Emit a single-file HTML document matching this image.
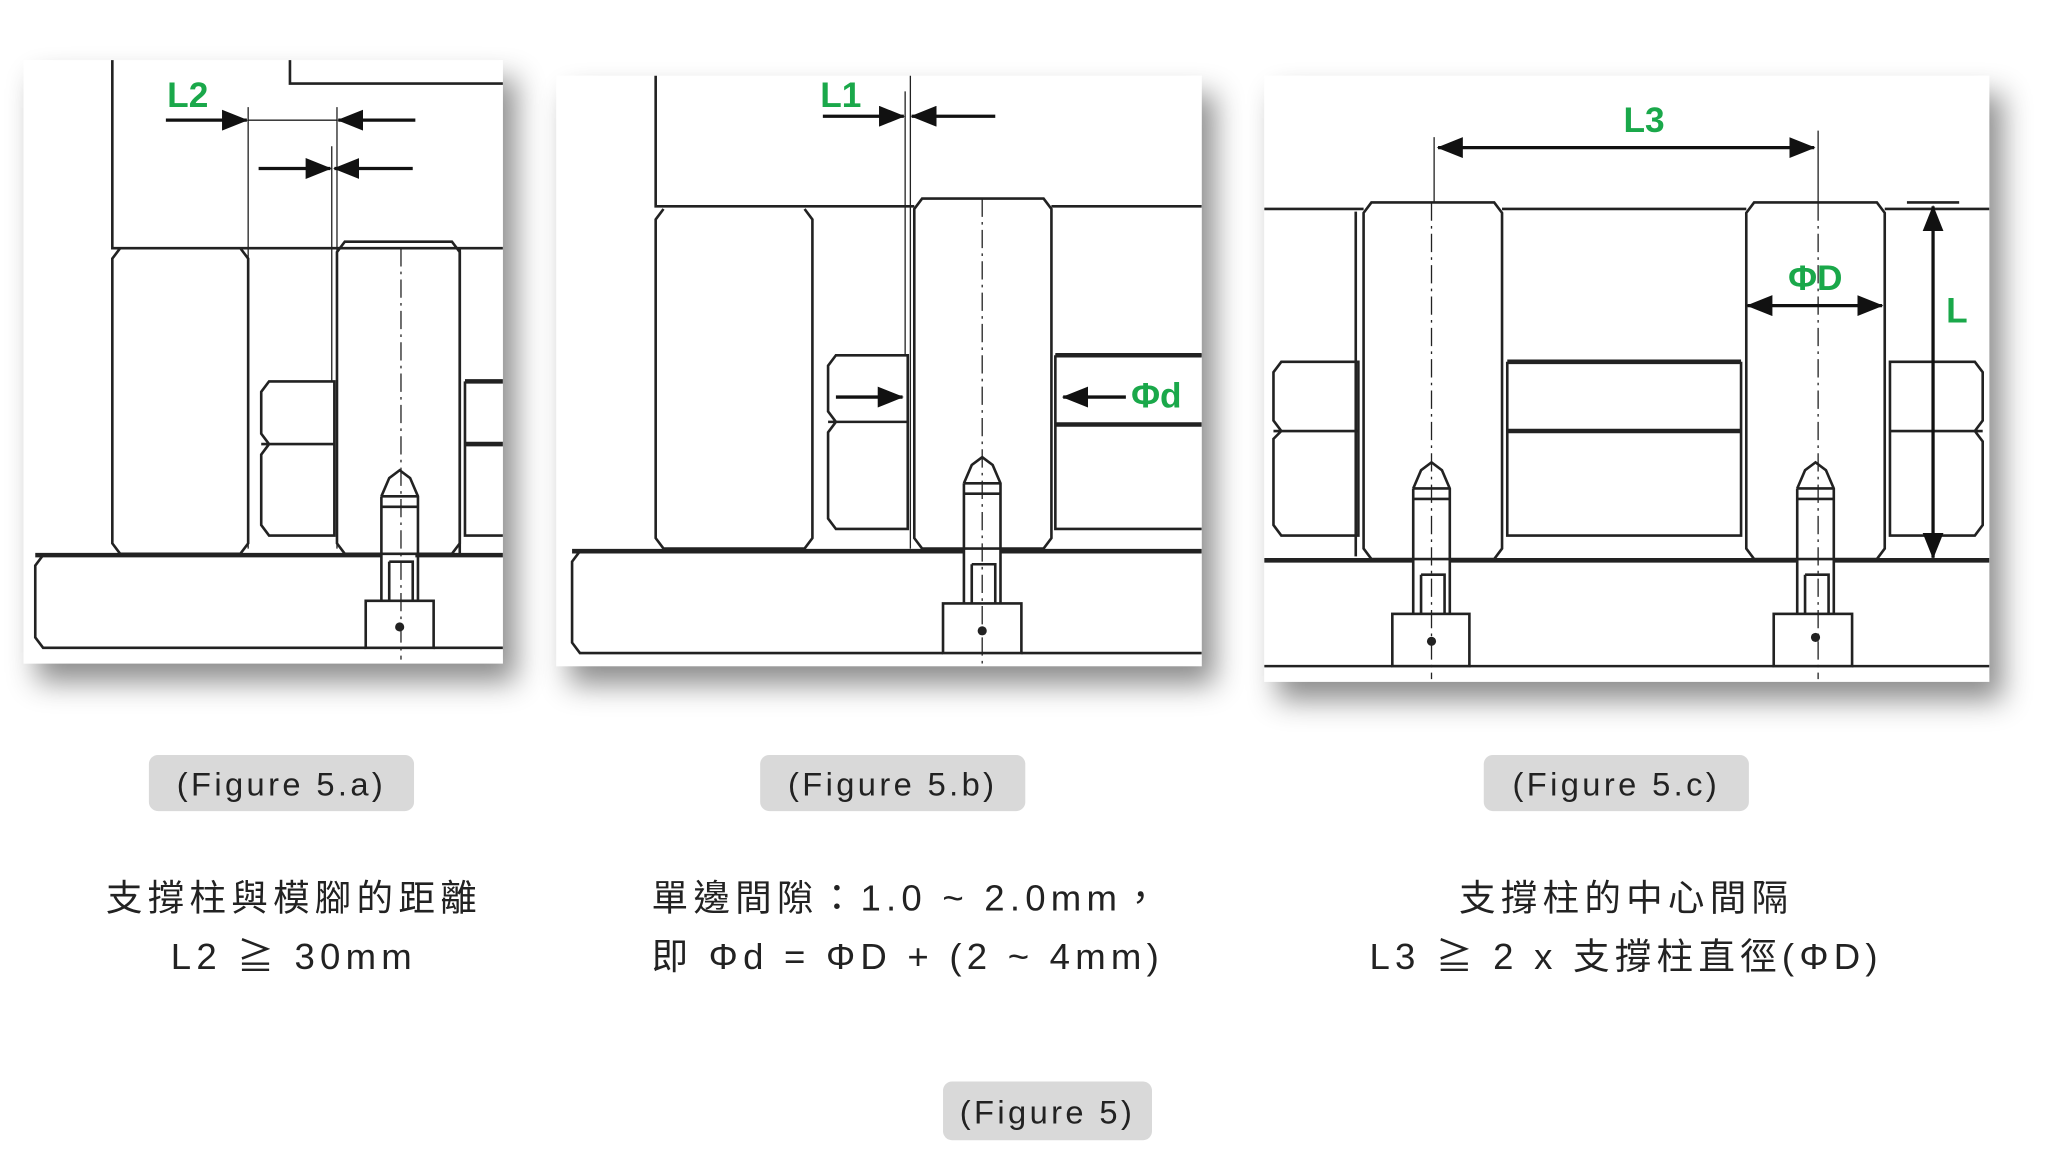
<!DOCTYPE html>
<html><head><meta charset="utf-8"><style>
html,body{margin:0;padding:0;background:#fff;width:2048px;height:1152px;overflow:hidden}
svg{display:block}
.l{fill:none;stroke:#222;stroke-width:2}
.t{stroke-width:3.5}
.th{stroke-width:1}
.d{stroke-dasharray:14 4 2 4;stroke-width:1}
.a{fill:none;stroke:#111;stroke-width:2.5}
.g{fill:#1aa84a;font-family:"Liberation Sans",sans-serif;font-weight:bold;font-size:27px}
.cap{font-family:"Liberation Sans",sans-serif;font-size:25px;fill:#222;letter-spacing:2.6px}
.tx{font-family:"Liberation Sans","Noto Sans CJK TC",sans-serif;font-size:28px;fill:#222;letter-spacing:4px}
</style></head><body>
<svg width="2048" height="1152" viewBox="0 0 1568 882" xmlns="http://www.w3.org/2000/svg">
<defs>
<filter id="sh" x="-10%" y="-10%" width="130%" height="130%"><feDropShadow dx="10" dy="14" stdDeviation="11" flood-color="#000" flood-opacity="0.45"/></filter>
<marker id="ah" markerWidth="20" markerHeight="16" refX="19" refY="8" orient="auto-start-reverse" markerUnits="userSpaceOnUse" viewBox="0 0 20 16"><path d="M0,0 L20,8 L0,16z" fill="#111"/></marker>
</defs>
<rect x="18" y="46" width="367" height="462" fill="#fff" filter="url(#sh)"/>
<rect x="426" y="58" width="494" height="452" fill="#fff" filter="url(#sh)"/>
<rect x="968" y="58" width="555" height="464" fill="#fff" filter="url(#sh)"/>

<!-- Panel a -->
<g>
<path class="l" d="M86,46 V190 H385 M222,46 V64 H385"/>
<path class="l" d="M92,190 L86,198 V416 L92,424 H184 L190,416 V198 L184,190"/>
<path class="l" d="M264,185 L258,193 V416 L264,424 H346 L352,416 V193 L346,185 Z"/>
<path class="l" d="M352,190 V424"/>
<path class="l" d="M206,292 H256 V410 H206 L200,402 V348 L206,340 L200,332 V300 Z M200,340 H256"/>
<path class="l t" d="M356,292 H385 M356,340 H385"/><path class="l" d="M356,292 V410 H385"/>
<path class="l t" d="M27,425 H292 M318,425 H385"/>
<path class="l" d="M33,425 L27,433 V488 L33,496 H280 M332,496 H385"/>
<path class="l" d="M292,380 L298,366 L306,360 L314,366 L320,380 V460 M292,380 V460 M292,380 H320 M292,388 H320 M298,430 H316 V460 M298,430 V460"/>
<rect class="l" x="280" y="460" width="52" height="36"/>
<circle cx="306" cy="480" r="3.5" fill="#222"/>
<line class="l d" x1="307" y1="190" x2="307" y2="505"/>
<line class="l th" x1="190" y1="82" x2="190" y2="420"/>
<line class="l th" x1="258" y1="82" x2="258" y2="420"/>
<line class="l th" x1="254" y1="112" x2="254" y2="292"/>
<line class="l th" x1="190" y1="92" x2="258" y2="92"/>
<line class="a" x1="127" y1="92" x2="189" y2="92" marker-end="url(#ah)"/>
<line class="a" x1="318" y1="92" x2="259" y2="92" marker-end="url(#ah)"/>
<line class="a" x1="198" y1="129" x2="253" y2="129" marker-end="url(#ah)"/>
<line class="a" x1="316" y1="129" x2="256" y2="129" marker-end="url(#ah)"/>
<text class="g" x="128" y="82">L2</text>
</g>

<!-- Panel b -->
<g>
<path class="l" d="M502,58 V158 H700"/>
<path class="l" d="M508,160 L502,168 V412 L508,420 H616 L622,412 V168 L616,160"/>
<path class="l" d="M706,152 L700,160 V412 L706,420 H799 L805,412 V160 L799,152 Z"/>
<path class="l" d="M805,158 H920"/>
<path class="l" d="M640,272 H695 V405 H640 L634,397 V331 L640,323 L634,315 V280 Z M634,323 H695"/>
<path class="l" d="M808,272 V405 H920 M808,272 H920"/>
<path class="l t" d="M808,272 H920 M808,325 H920"/>
<path class="l t" d="M438,422 H738 M766,422 H920"/>
<path class="l" d="M444,422 L438,430 V492 L444,500 H722 M782,500 H920"/>
<path class="l" d="M738,370 L744,356 L752,350 L760,356 L766,370 V462 M738,370 V462 M738,370 H766 M738,378 H766 M744,432 H762 V462 M744,432 V462"/>
<rect class="l" x="722" y="462" width="60" height="38"/>
<circle cx="752" cy="483" r="3.5" fill="#222"/>
<line class="l d" x1="752" y1="152" x2="752" y2="508"/>
<line class="l th" x1="693" y1="70" x2="693" y2="272"/>
<line class="l th" x1="697" y1="58" x2="697" y2="420"/>
<line class="a" x1="630" y1="89" x2="692" y2="89" marker-end="url(#ah)"/>
<line class="a" x1="762" y1="89" x2="698" y2="89" marker-end="url(#ah)"/>
<line class="a" x1="640" y1="304" x2="691" y2="304" marker-end="url(#ah)"/>
<line class="a" x1="862" y1="304" x2="814" y2="304" marker-end="url(#ah)"/>
<text class="g" x="628" y="82">L1</text>
<text class="g" x="866" y="312">Φd</text>
</g>

<!-- Panel c -->
<g>
<path class="l" d="M968,160 H1044 M1150,160 H1337 M1443,160 H1523"/>
<path class="l" d="M1038,162 V426"/>
<path class="l" d="M1050,155 L1044,163 V420 L1050,428 H1144 L1150,420 V163 L1144,155 Z"/>
<path class="l" d="M1343,155 L1337,163 V420 L1343,428 H1437 L1443,420 V163 L1437,155 Z"/>
<path class="l" d="M1154,277 V410 H1333 V277"/>
<path class="l t" d="M1154,277 H1333 M1154,330 H1333"/>
<path class="l" d="M981,277 H1040 V410 H981 L975,402 V336 L981,330 L975,322 V285 Z M975,330 H1040"/>
<path class="l" d="M1447,277 H1512 L1518,285 V322 L1512,330 L1518,338 V402 L1512,410 H1447 Z M1447,330 H1518"/>
<path class="l t" d="M968,429 H1082 M1110,429 H1376 M1404,429 H1523"/>
<path class="l" d="M968,510 H1066 M1125,510 H1358 M1418,510 H1523"/>
<path class="l" d="M1082,374 L1088,360 L1096,354 L1104,360 L1110,374 V470 M1082,374 V470 M1082,374 H1110 M1082,382 H1110 M1088,440 H1106 V470 M1088,440 V470"/>
<path class="l" d="M1376,374 L1382,360 L1390,354 L1398,360 L1404,374 V470 M1376,374 V470 M1376,374 H1404 M1376,382 H1404 M1382,440 H1400 V470 M1382,440 V470"/>
<rect class="l" x="1066" y="470" width="59" height="40"/>
<rect class="l" x="1358" y="470" width="60" height="40"/>
<circle cx="1096" cy="491" r="3.5" fill="#222"/><circle cx="1390" cy="488" r="3.5" fill="#222"/>
<line class="l d" x1="1096" y1="155" x2="1096" y2="520"/>
<line class="l d" x1="1392" y1="155" x2="1392" y2="520"/>
<line class="l th" x1="1098" y1="105" x2="1098" y2="155"/>
<line class="l th" x1="1392" y1="100" x2="1392" y2="155"/>
<line class="a" x1="1101" y1="113" x2="1389" y2="113" marker-start="url(#ah)" marker-end="url(#ah)"/>
<line class="a" x1="1338" y1="234" x2="1441" y2="234" marker-start="url(#ah)" marker-end="url(#ah)"/>
<line class="a" x1="1480" y1="158" x2="1480" y2="427" marker-start="url(#ah)" marker-end="url(#ah)"/>
<line class="l" x1="1460" y1="155" x2="1500" y2="155"/>
<text class="g" x="1243" y="101">L3</text>
<text class="g" x="1369" y="222">ΦD</text>
<text class="g" x="1490" y="247">L</text>
</g>

<rect x="114" y="578" width="203" height="43" rx="7" fill="#d9d9d9"/>
<text class="cap" x="215.5" y="609" text-anchor="middle">(Figure 5.a)</text>
<rect x="582" y="578" width="203" height="43" rx="7" fill="#d9d9d9"/>
<text class="cap" x="683.5" y="609" text-anchor="middle">(Figure 5.b)</text>
<rect x="1136" y="578" width="203" height="43" rx="7" fill="#d9d9d9"/>
<text class="cap" x="1237.5" y="609" text-anchor="middle">(Figure 5.c)</text>
<rect x="722" y="828" width="160" height="45" rx="7" fill="#d9d9d9"/>
<text class="cap" x="802" y="860" text-anchor="middle">(Figure 5)</text>

<text class="tx" x="225" y="697" text-anchor="middle">支撐柱與模腳的距離</text>
<text class="tx" x="225" y="742" text-anchor="middle">L2 ≧ 30mm</text>
<text class="tx" x="695" y="697" text-anchor="middle">單邊間隙：1.0 ~ 2.0mm，</text>
<text class="tx" x="695" y="742" text-anchor="middle">即 Φd = ΦD + (2 ~ 4mm)</text>
<text class="tx" x="1245" y="697" text-anchor="middle">支撐柱的中心間隔</text>
<text class="tx" x="1245" y="742" text-anchor="middle">L3 ≧ 2 x 支撐柱直徑(ΦD)</text>
</svg>
</body></html>
